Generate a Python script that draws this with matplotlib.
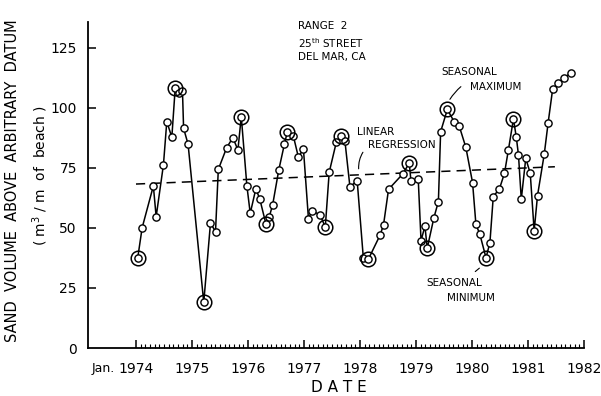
import matplotlib
matplotlib.use("Agg")
import matplotlib.pyplot as plt
import numpy as np

# ---- data ----
years = [1974.03, 1974.11, 1974.31, 1974.36, 1974.49, 1974.55, 1974.64, 1974.70, 1974.77, 1974.83,
         1974.85, 1974.93, 1975.21, 1975.33, 1975.42, 1975.47, 1975.62, 1975.73, 1975.82, 1975.88,
         1975.98, 1976.04, 1976.14, 1976.21, 1976.32, 1976.38, 1976.44, 1976.55, 1976.65, 1976.70,
         1976.81, 1976.90, 1976.99, 1977.08, 1977.14, 1977.29, 1977.38, 1977.45, 1977.58, 1977.66,
         1977.73, 1977.82, 1977.95, 1978.06, 1978.15, 1978.36, 1978.42, 1978.51, 1978.76, 1978.88,
         1978.91, 1979.04, 1979.09, 1979.16, 1979.20, 1979.32, 1979.40, 1979.44, 1979.56, 1979.68,
         1979.77, 1979.89, 1980.01, 1980.07, 1980.14, 1980.25, 1980.32, 1980.38, 1980.49, 1980.58,
         1980.65, 1980.74, 1980.79, 1980.83, 1980.88, 1980.96, 1981.04, 1981.11, 1981.17, 1981.29,
         1981.36, 1981.44, 1981.54, 1981.64, 1981.76]
volumes = [37.4, 50.1, 67.5, 54.7, 76.3, 94.3, 87.8, 108.2, 106.1, 107.1,
           91.5, 84.9, 19.0, 52.0, 48.5, 74.4, 83.5, 87.6, 82.5, 96.4,
           67.6, 56.1, 66.3, 62.1, 51.7, 54.7, 59.6, 74.2, 84.9, 89.8,
           88.3, 79.5, 82.9, 53.7, 57.2, 55.4, 50.3, 73.2, 86.0, 88.5,
           86.4, 67.2, 69.6, 37.4, 37.0, 47.1, 51.3, 66.1, 72.4, 77.0,
           69.6, 70.3, 44.7, 50.8, 41.5, 54.3, 61.0, 90.1, 99.4, 94.3,
           92.6, 83.6, 68.9, 51.5, 47.4, 37.6, 43.9, 63.1, 66.3, 72.8,
           82.5, 95.4, 88.0, 80.4, 61.9, 79.0, 72.8, 48.8, 63.5, 80.7,
           93.9, 107.8, 110.3, 112.6, 114.4]
# indices of the circled seasonal maxima / minima
seasonal_idx = [0, 7, 12, 19, 24, 29, 36, 39, 44, 49, 54, 58, 65, 71, 77]

regression_years = [1974.0, 1981.48]
regression_values = [68.3, 75.5]

year_ticks = [1974, 1975, 1976, 1977, 1978, 1979, 1980, 1981, 1982]
year_labels = ["1974", "1975", "1976", "1977", "1978", "1979", "1980", "1981", "1982"]
value_ticks = [0, 25, 50, 75, 100, 125]

# ---- figure ----
fig = plt.figure(figsize=(6.01, 3.96), dpi=100)
ax = fig.add_axes([88/601, 48/396, (584-88)/601, (348-22)/396])
ax.set_xlim(1973.143, 1982.0)
ax.set_ylim(0, 135.8)

lw = 1.1
ax.plot(regression_years, regression_values, color="black", lw=1.1,
        dashes=(6, 4), zorder=1)
ax.plot(years, volumes, color="black", lw=lw, marker="o", ms=5.2,
        mfc="white", mec="black", mew=1.0, zorder=3)
sy = [years[i] for i in seasonal_idx]
sv = [volumes[i] for i in seasonal_idx]
ax.plot(sy, sv, ls="none", marker="o", ms=10.5, mfc="none", mec="black",
        mew=1.1, zorder=4)

# spines
for s in ["top", "right"]:
    ax.spines[s].set_visible(False)
ax.spines["left"].set_linewidth(1.3)
ax.spines["bottom"].set_linewidth(1.3)
ax.spines["bottom"].set_bounds(1973.143, 1982.0)

# ticks
ax.set_xticks(year_ticks)
ax.set_xticklabels(year_labels)
minor = [y + m / 12 for y in year_ticks[:-1] for m in range(1, 12)]
ax.set_xticks(minor, minor=True)
ax.tick_params(axis="x", which="major", direction="in", length=6, width=1.1,
               pad=10, labelsize=10)
ax.tick_params(axis="x", which="minor", direction="in", length=3, width=0.8)
ax.set_yticks(value_ticks)
ax.tick_params(axis="y", which="major", direction="in", length=6, width=1.1,
               pad=8, labelsize=10)
ax.yaxis.get_major_ticks()[0].tick1line.set_visible(False)

ax.annotate("Jan.", xy=(1973.41, 0), xycoords=("data", "axes fraction"),
            xytext=(0, -10.2), textcoords="offset points", ha="center", va="top",
            fontsize=9)

# axis labels
fig.text(13/601, 1 - 181/396, "SAND  VOLUME  ABOVE  ARBITRARY  DATUM",
         rotation=90, ha="center", va="center", fontsize=10.5)
fig.text(40/601, 1 - 176/396, "( m$^{3}$ / m  of  beach )",
         rotation=90, ha="center", va="center", fontsize=10)
fig.text(339/601, 1 - 387/396, "D A T E", ha="center", va="center", fontsize=11)

# annotations
tk = dict(fontsize=7.5, ha="left", va="center")
ax.text(1976.89, 134.3, "RANGE  2", **tk)
ax.text(1976.89, 127.2, "25$^{\\mathrm{th}}$ STREET", **tk)
ax.text(1976.89, 121.1, "DEL MAR, CA", **tk)

ax.text(1977.94, 90.1, "LINEAR", **tk)
ax.text(1978.14, 84.6, "REGRESSION", **tk)
ax.annotate("", xy=(1977.98, 73.5), xytext=(1978.08, 82.5),
            arrowprops=dict(arrowstyle="-", lw=0.8, color="black",
                            connectionstyle="arc3,rad=0.2"))

ax.text(1979.46, 115.1, "SEASONAL", **tk)
ax.text(1979.96, 108.75, "MAXIMUM", **tk)
ax.annotate("", xy=(1979.58, 102.6), xytext=(1979.84, 109.6),
            arrowprops=dict(arrowstyle="-", lw=0.8, color="black",
                            connectionstyle="arc3,rad=0.1"))

ax.text(1979.19, 27.0, "SEASONAL", **tk)
ax.text(1979.55, 20.7, "MINIMUM", **tk)
ax.annotate("", xy=(1980.17, 34.0), xytext=(1980.02, 31.1),
            arrowprops=dict(arrowstyle="-", lw=0.8, color="black"))

fig.savefig("out.png", dpi=100)
